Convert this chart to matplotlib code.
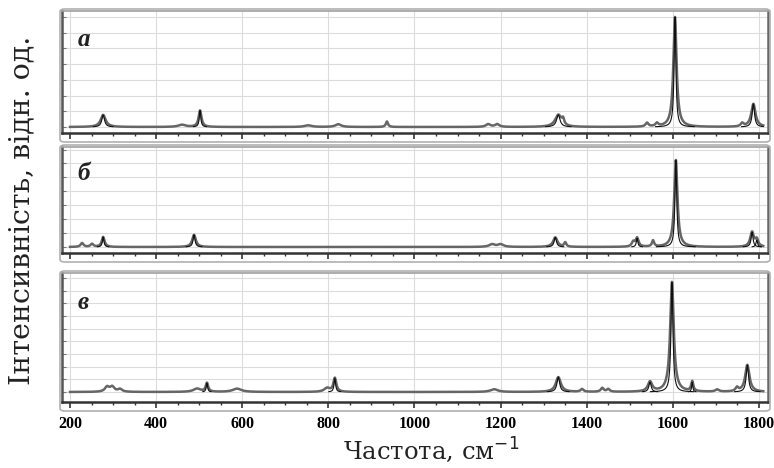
import numpy as np
import matplotlib
matplotlib.use("Agg")
import matplotlib.pyplot as plt
from matplotlib.patches import FancyBboxPatch
from matplotlib.ticker import MultipleLocator, NullFormatter

# Band parameters for each spectrum: centre (cm^-1), relative height (%), half width (cm^-1)
centers_a = [277, 460, 502, 753, 823, 936, 1171, 1192, 1334, 1345, 1540, 1563, 1605, 1761, 1787]
heights_a = [11, 2, 15, 1.5, 2.5, 5, 2.5, 2.5, 11, 5, 3.5, 3, 100, 3, 21]
widths_a = [7, 10, 4, 10, 8, 3, 6, 6, 9, 3, 4, 4, 4.5, 4, 6]

centers_b = [228, 251, 277, 488, 1180, 1200, 1327, 1350, 1508, 1517, 1554, 1607, 1784, 1795]
heights_b = [4.5, 3.5, 11.5, 14, 3, 3, 11, 5, 5.5, 10, 7, 100, 17, 8]
widths_b = [4, 4, 4, 5, 8, 8, 6, 3, 4, 4, 3, 4.5, 5, 4]

centers_c = [286, 298, 316, 495, 518, 588, 797, 815, 1185, 1334, 1389, 1436, 1450, 1547, 1598, 1645, 1703, 1749, 1773]
heights_c = [4.5, 4.5, 2.5, 3, 8, 3, 3.5, 12.5, 2.5, 13.5, 2.5, 3.5, 2.5, 9, 100, 9, 2, 3.5, 24.5]
widths_c = [6, 6, 6, 10, 3.5, 12, 8, 4, 10, 7, 4, 4, 4, 6, 5, 3, 5, 4, 6]

panel_labels = ["а", "б", "в"]
x_ticks = [200, 400, 600, 800, 1000, 1200, 1400, 1600, 1800]
x_range = (200, 1810)

W, H = 774, 468
fig = plt.figure(figsize=(W / 100, H / 100), dpi=100)
fig.patch.set_facecolor("white")

# axes geometry in pixels: (top, axis line, baseline, main peak height, grid step)
geom = [
    (11, 133, 127, 110, 100 / 7),
    (147, 253, 247, 87, 16),
    (273, 402, 392, 110, 11.5),
]
left_px, right_px = 62, 768
xlim = (181.4, 1821)

bands = [
    (centers_a, heights_a, widths_a),
    (centers_b, heights_b, widths_b),
    (centers_c, heights_c, widths_c),
]

x = np.linspace(x_range[0], x_range[1], 4000)


def lorentz(xv, c, h, w):
    return h * w ** 2 / ((xv - c) ** 2 + w ** 2)


for i, ((top, axis_y, base_y, peak_px, gstep), (cs, hs, ws), lab) in enumerate(
        zip(geom, bands, panel_labels)):
    ax = fig.add_axes([left_px / W, 1 - axis_y / H,
                       (right_px - left_px) / W, (axis_y - top) / H])
    ymin = -(axis_y - base_y) / peak_px * 100
    ymax = (base_y - top) / peak_px * 100
    ax.set_xlim(*xlim)
    ax.set_ylim(ymin, ymax)

    total = np.zeros_like(x)
    for c, h, w in zip(cs, hs, ws):
        total += lorentz(x, c, h, w)
    ax.plot(x, total, color="#666666", lw=1.8, zorder=3)
    # fitted components of the stronger bands
    for c, h, w in zip(cs, hs, ws):
        if h >= 8:
            comp = lorentz(x, c, h, w * 0.55)
            m = comp > 0.3
            ax.plot(x[m], comp[m], color="#111111", lw=0.8, zorder=4)

    ax.set_xticks(x_ticks)
    ax.xaxis.set_minor_locator(MultipleLocator(50))
    ax.yaxis.set_major_locator(MultipleLocator(gstep))
    ax.yaxis.set_major_formatter(NullFormatter())
    ax.grid(True, which="major", axis="both", color="#dcdcdc", lw=0.8)
    ax.set_axisbelow(True)
    ax.tick_params(axis="y", which="both", direction="in", length=3,
                   color="#777777", left=True, right=False)
    ax.tick_params(axis="x", which="major", direction="out", length=4,
                   width=1.2, color="#333333")
    ax.tick_params(axis="x", which="minor", direction="out", length=2.5,
                   width=1.0, color="#333333")
    ax.spines["top"].set_color("#a0a0a0")
    ax.spines["top"].set_linewidth(1.2)
    ax.spines["left"].set_color("#555555")
    ax.spines["left"].set_linewidth(1.8)
    ax.spines["right"].set_color("#666666")
    ax.spines["right"].set_linewidth(1.8)
    ax.spines["bottom"].set_color("#333333")
    ax.spines["bottom"].set_linewidth(1.8)

    if i < 2:
        ax.set_xticklabels([])
    else:
        ax.set_xticklabels([str(t) for t in x_ticks], fontsize=11.5,
                           fontweight="bold", family="Liberation Serif")
        ax.tick_params(axis="x", which="major", pad=6)

    ax.text(0.022, 0.86, lab, transform=ax.transAxes, va="top", ha="left",
            fontsize=18, fontstyle="italic", fontweight="bold",
            family="Liberation Serif", color="#222222", zorder=5)

    # rounded outer frame around each panel
    frame = FancyBboxPatch(((left_px - 2) / W, 1 - (axis_y + 9) / H),
                           (right_px - left_px + 4) / W, (axis_y + 9 - top + 2) / H,
                           boxstyle="round,pad=0,rounding_size=0.006",
                           transform=fig.transFigure, fill=False,
                           edgecolor="#b0b0b0", lw=1.2, zorder=0)
    fig.patches.append(frame)

fig.text(22 / W, 1 - 210 / H, "Інтенсивність, відн. од.", rotation=90,
         ha="center", va="center", fontsize=20.5, family="DejaVu Serif",
         color="#222222")
fig.text(431 / W, 1 - 450 / H, "Частота, см$^{-1}$", ha="center", va="center",
         fontsize=17.5, family="DejaVu Serif", color="#222222")

fig.savefig("out.png", dpi=100, facecolor="white")
